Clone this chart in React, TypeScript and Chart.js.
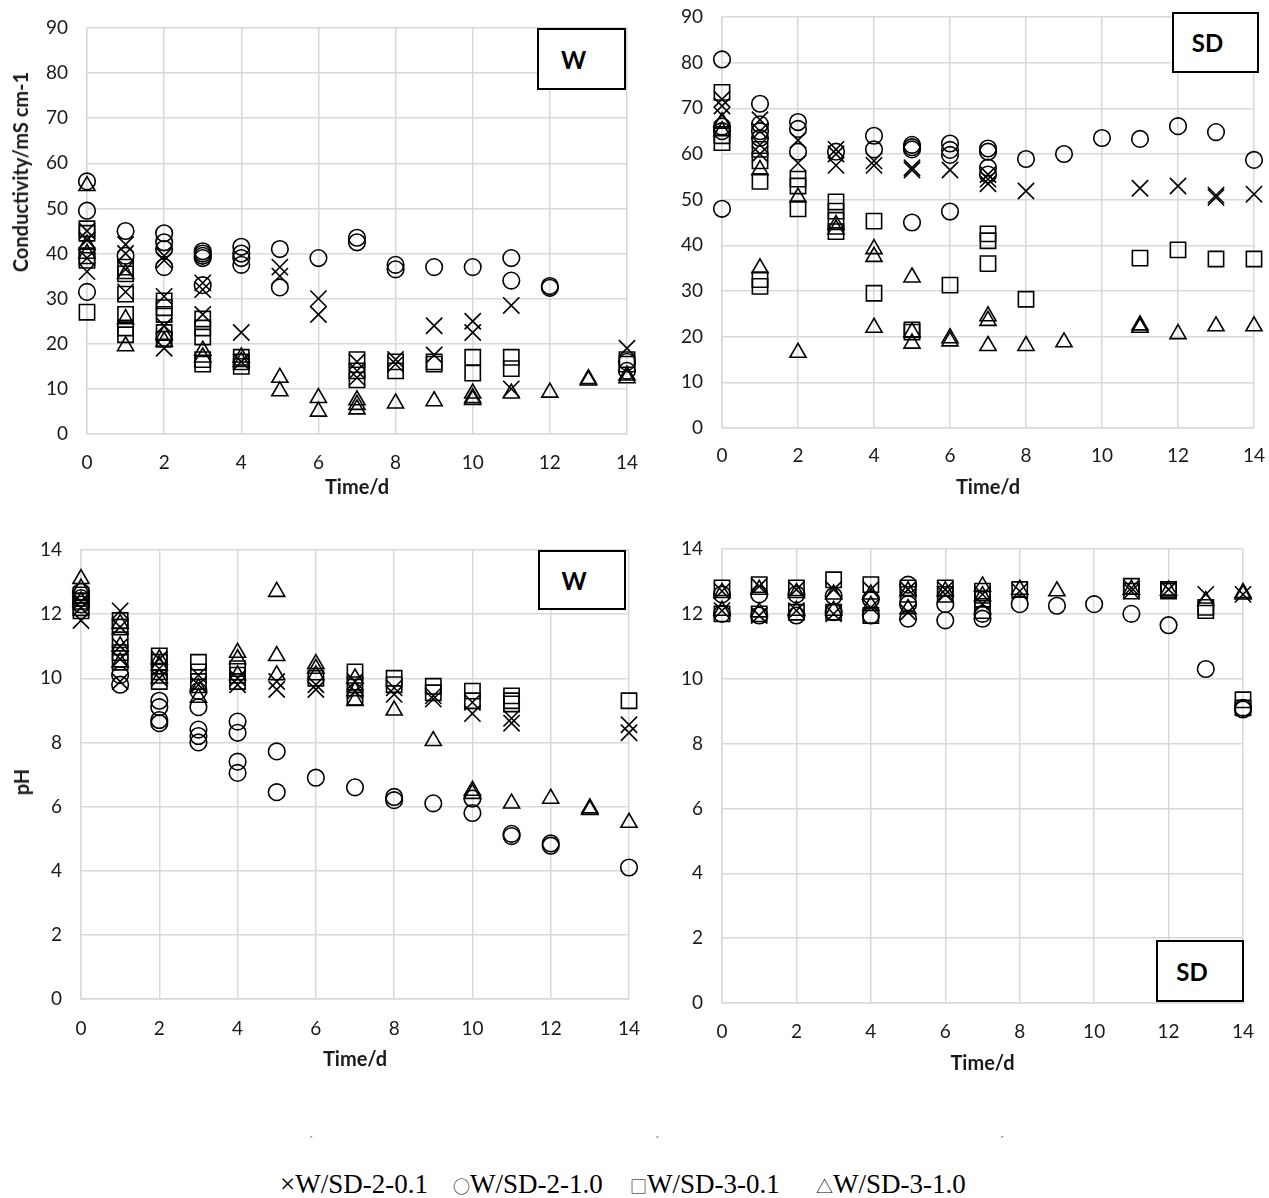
import React, { useEffect, useRef } from 'react';
import { Chart, registerables } from 'chart.js';

Chart.register(...registerables);

type P = [number, number];

// ---------- Series labels ----------
const seriesNames = ['W/SD-2-0.1', 'W/SD-2-1.0', 'W/SD-3-0.1', 'W/SD-3-1.0'];
const xTicks = [0, 2, 4, 6, 8, 10, 12, 14];

// ---------- Panel A: W, conductivity ----------
const wCondCross: P[] = [
  [0, 45], [0, 43], [0, 39], [0, 36],
  [1, 42], [1, 40], [1, 36.5], [1, 31.5],
  [2, 39.5], [2, 38.5], [2, 30.5], [2, 24], [2, 19],
  [3, 33.5], [3, 32], [3, 26.5],
  [4, 22.5], [4, 16],
  [5, 37], [5, 35],
  [6, 30], [6, 26.5],
  [7, 16], [7, 14], [7, 12.5],
  [8, 16.5], [8, 15.5],
  [9, 24], [9, 17.5],
  [10, 25], [10, 22.5],
  [11, 28.5], [11, 10],
  [14, 19],
];
const wCondCircle: P[] = [
  [0, 56], [0, 49.5], [0, 31.5],
  [1, 45], [1, 39.5],
  [2, 44.5], [2, 42.5], [2, 41], [2, 37],
  [3, 40.5], [3, 40], [3, 39.5], [3, 39], [3, 33],
  [4, 41.5], [4, 40], [4, 39], [4, 37.5],
  [5, 41], [5, 32.5],
  [6, 39],
  [7, 43.5], [7, 42.5],
  [8, 37.5], [8, 36.5],
  [9, 37],
  [10, 37],
  [11, 39], [11, 34],
  [12, 32.8], [12, 32.4],
  [14, 16], [14, 14],
];
const wCondSquare: P[] = [
  [0, 45.5], [0, 44.5], [0, 39.5], [0, 38.5], [0, 27],
  [1, 37], [1, 35.5], [1, 31], [1, 26.5], [1, 23.5], [1, 22],
  [2, 29.5], [2, 28], [2, 26.5], [2, 22.5], [2, 21],
  [3, 25.5], [3, 23.5], [3, 21.5], [3, 16.5], [3, 15.5],
  [4, 17], [4, 16], [4, 15],
  [7, 16.5], [7, 14], [7, 12],
  [8, 16], [8, 14],
  [9, 16], [9, 15.5],
  [10, 17], [10, 13.5],
  [11, 17], [11, 14.5],
  [14, 16.5], [14, 15.5],
];
const wCondTriangle: P[] = [
  [0, 55], [0, 42], [0, 40],
  [1, 35.5], [1, 25.5], [1, 19.5],
  [2, 22], [2, 20.5],
  [3, 18.5], [3, 17],
  [4, 17], [4, 16],
  [5, 12.5], [5, 9.5],
  [6, 8], [6, 5],
  [7, 7.5], [7, 6.5], [7, 5.5],
  [8, 6.8],
  [9, 7.3],
  [10, 9], [10, 8], [10, 7.6],
  [11, 9],
  [12, 9.2],
  [13, 12.2], [13, 11.9],
  [14, 13], [14, 12.4],
];

// ---------- Panel B: SD, conductivity ----------
const sdCondCross: P[] = [
  [0, 72], [0, 70.5], [0, 68.5],
  [1, 67.5], [1, 65], [1, 62], [1, 60],
  [2, 63], [2, 58],
  [3, 61], [3, 60], [3, 57.5],
  [4, 58.5], [4, 57.5],
  [5, 57], [5, 56.5],
  [6, 56.5],
  [7, 55.5], [7, 54.5], [7, 53.5],
  [8, 51.9],
  [11, 52.5],
  [12, 53],
  [13, 51], [13, 50.5],
  [14, 51.2],
];
const sdCondCircle: P[] = [
  [0, 80.7], [0, 66], [0, 65], [0, 48],
  [1, 71], [1, 66.5], [1, 65], [1, 63.5],
  [2, 67], [2, 65.5], [2, 60.5],
  [3, 60.5],
  [4, 64], [4, 61],
  [5, 62], [5, 61.5], [5, 61], [5, 45],
  [6, 62.3], [6, 60.9], [6, 59.8], [6, 47.4],
  [7, 61.2], [7, 60.5], [7, 57], [7, 55.5],
  [8, 58.9],
  [9, 60],
  [10, 63.5],
  [11, 63.3],
  [12, 66.1],
  [13, 64.8],
  [14, 58.7],
];
const sdCondSquare: P[] = [
  [0, 73.5], [0, 64], [0, 62.5],
  [1, 61], [1, 58.5], [1, 54], [1, 32.5], [1, 31],
  [2, 54.5], [2, 53], [2, 48],
  [3, 49.5], [3, 47.5], [3, 45.5], [3, 43],
  [4, 45.3], [4, 29.5],
  [5, 21.5], [5, 21],
  [6, 31.3],
  [7, 42.5], [7, 41], [7, 36],
  [8, 28.2],
  [11, 37.2],
  [12, 39],
  [13, 37],
  [14, 37],
];
const sdCondTriangle: P[] = [
  [0, 67], [0, 65],
  [1, 56.5], [1, 35],
  [2, 50.5], [2, 16.5],
  [3, 44.5], [3, 43.5],
  [4, 39.2], [4, 37.5], [4, 22],
  [5, 33], [5, 21], [5, 18.5],
  [6, 19.7], [6, 19],
  [7, 24.5], [7, 23.5], [7, 18],
  [8, 18],
  [9, 18.8],
  [11, 22.5], [11, 22],
  [12, 20.6],
  [13, 22.3],
  [14, 22.3],
];

// ---------- Panel C: W, pH ----------
const wPhCross: P[] = [
  [0, 12.4], [0, 12.2], [0, 11.8],
  [1, 12.1], [1, 11.6], [1, 11.0], [1, 10.6], [1, 9.9],
  [2, 10.6], [2, 10.3], [2, 10.0],
  [3, 10.1], [3, 9.8],
  [4, 10.0], [4, 9.8],
  [5, 9.9], [5, 9.65],
  [6, 9.8], [6, 9.65],
  [7, 9.9], [7, 9.6],
  [8, 9.7], [8, 9.5],
  [9, 9.45], [9, 9.35],
  [10, 9.25], [10, 8.9],
  [11, 8.75], [11, 8.6],
  [14, 8.55], [14, 8.3],
];
const wPhCircle: P[] = [
  [0, 12.7], [0, 12.5], [0, 12.3],
  [1, 10.1], [1, 9.8],
  [2, 9.3], [2, 9.1], [2, 8.7], [2, 8.6],
  [3, 9.6], [3, 9.1], [3, 8.4], [3, 8.2], [3, 8.0],
  [4, 8.65], [4, 8.3], [4, 7.4], [4, 7.05],
  [5, 7.72], [5, 6.45],
  [6, 6.9],
  [7, 6.6],
  [8, 6.3], [8, 6.2],
  [9, 6.1],
  [10, 6.25], [10, 5.8],
  [11, 5.15], [11, 5.08],
  [12, 4.85], [12, 4.78],
  [14, 4.1],
];
const wPhSquare: P[] = [
  [0, 12.6], [0, 12.4], [0, 12.2], [0, 12.1],
  [1, 11.8], [1, 11.6], [1, 11.2], [1, 10.8], [1, 10.5],
  [2, 10.7], [2, 10.5], [2, 10.2], [2, 9.9],
  [3, 10.5], [3, 10.2], [3, 9.9],
  [4, 10.3], [4, 10.1], [4, 9.9],
  [6, 10.0],
  [7, 10.2], [7, 9.8], [7, 9.4],
  [8, 10.0], [8, 9.8],
  [9, 9.75], [9, 9.55],
  [10, 9.6], [10, 9.3],
  [11, 9.45], [11, 9.3], [11, 9.2],
  [14, 9.3],
];
const wPhTriangle: P[] = [
  [0, 13.1], [0, 12.8], [0, 12.4],
  [1, 11.7], [1, 11.0], [1, 10.5],
  [2, 10.6], [2, 10.4], [2, 10.0],
  [3, 9.7], [3, 9.4],
  [4, 10.8], [4, 10.6], [4, 10.1],
  [5, 12.7], [5, 10.7], [5, 10.1],
  [6, 10.45], [6, 10.3], [6, 10.1],
  [7, 10.0], [7, 9.6], [7, 9.3],
  [8, 9.0],
  [9, 8.05],
  [10, 6.5], [10, 6.4],
  [11, 6.1],
  [12, 6.25],
  [13, 5.95], [13, 5.9],
  [14, 5.5],
];

// ---------- Panel D: SD, pH ----------
const sdPhCross: P[] = [
  [0, 12.7], [0, 12.1],
  [1, 12.85], [1, 11.95],
  [2, 12.75], [2, 12.1],
  [3, 12.75], [3, 12.0],
  [4, 12.75], [4, 12.2],
  [5, 12.75], [5, 12.05],
  [6, 12.75], [6, 12.6],
  [7, 12.6], [7, 12.3],
  [8, 12.7],
  [11, 12.8], [11, 12.7],
  [12, 12.75],
  [13, 12.6],
  [14, 12.6],
];
const sdPhCircle: P[] = [
  [0, 12.6], [0, 12.0],
  [1, 12.6], [1, 11.95],
  [2, 12.6], [2, 11.95],
  [3, 12.55], [3, 12.05],
  [4, 12.45], [4, 11.95],
  [5, 12.9], [5, 12.3], [5, 11.85],
  [6, 12.3], [6, 11.8],
  [7, 12.0], [7, 11.85],
  [8, 12.3],
  [9, 12.25],
  [10, 12.3],
  [11, 12.0],
  [12, 11.65],
  [13, 10.3],
  [14, 9.1], [14, 9.05],
];
const sdPhSquare: P[] = [
  [0, 12.8], [0, 12.0],
  [1, 12.9], [1, 12.0],
  [2, 12.8], [2, 12.05],
  [3, 13.05], [3, 12.05],
  [4, 12.9], [4, 11.95],
  [5, 12.8], [5, 12.6],
  [6, 12.8], [6, 12.6],
  [7, 12.7], [7, 12.45], [7, 12.1],
  [8, 12.75],
  [11, 12.85], [11, 12.7],
  [12, 12.75], [12, 12.7],
  [13, 12.2], [13, 12.1],
  [14, 9.35], [14, 9.1],
];
const sdPhTriangle: P[] = [
  [0, 12.65], [0, 12.1],
  [1, 12.75], [1, 12.05],
  [2, 12.65], [2, 12.1],
  [3, 12.6], [3, 12.1],
  [4, 12.6], [4, 12.25],
  [5, 12.7], [5, 12.15],
  [6, 12.7],
  [7, 12.85], [7, 12.55],
  [8, 12.75],
  [9, 12.7],
  [11, 12.75],
  [12, 12.72],
  [13, 12.4],
  [14, 12.65], [14, 12.6],
];

// ---------- Styling ----------
const MARKERS = [
  { pointStyle: 'crossRot', radius: 11.5 },
  { pointStyle: 'circle', radius: 8.3 },
  { pointStyle: 'rect', radius: 10.8 },
  { pointStyle: 'triangle', radius: 9.3 },
];
const GRID = '#d9d9d9';
const TEXT = '#1a1a1a';
const SANS = "Lato, 'Open Sans', 'DejaVu Sans', sans-serif";
const TICK_SIZE = 19;
const HIDDEN = 'rgba(0,0,0,0)';

type Rect = { left: number; top: number; right: number; bottom: number };

interface PanelProps {
  series: P[][];
  yMax: number;
  yStep: number;
  canvasLeft: number;
  canvasTop: number;
  canvasWidth: number;
  canvasHeight: number;
  area: Rect;
  xTickGap: number;
}

function ScatterPanel(props: PanelProps) {
  const ref = useRef<HTMLCanvasElement | null>(null);
  const { series, yMax, yStep, canvasLeft, canvasTop, canvasWidth, canvasHeight, area, xTickGap } = props;

  useEffect(() => {
    if (!ref.current) return;
    const padTop = area.top - canvasTop;
    const padRight = canvasLeft + canvasWidth - area.right;
    const yAxisWidth = area.left - canvasLeft;
    const xAxisHeight = canvasTop + canvasHeight - area.bottom;

    const chart = new Chart(ref.current, {
      type: 'scatter',
      data: {
        datasets: series.map((pts, i) => ({
          label: seriesNames[i],
          data: pts.map(([x, y]) => ({ x, y })),
          pointStyle: MARKERS[i].pointStyle as any,
          pointRadius: MARKERS[i].radius,
          pointHoverRadius: MARKERS[i].radius,
          borderColor: '#000',
          backgroundColor: 'rgba(0,0,0,0)',
          borderWidth: 1.6,
          showLine: false,
          clip: false as any,
        })),
      },
      options: {
        animation: false,
        responsive: false,
        maintainAspectRatio: false,
        events: [],
        layout: { padding: { left: 0, top: padTop, right: padRight, bottom: 0 } },
        plugins: { legend: { display: false }, tooltip: { enabled: false } },
        scales: {
          x: {
            type: 'linear',
            min: 0,
            max: 14,
            afterBuildTicks: (s: any) => {
              s.ticks = xTicks.map((v) => ({ value: v }));
            },
            ticks: {
              padding: 0,
              autoSkip: false,
              maxRotation: 0,
              color: TEXT,
              font: { family: SANS, size: TICK_SIZE },
            },
            grid: { color: GRID, lineWidth: 1.5, drawTicks: true, tickLength: xTickGap, tickColor: HIDDEN },
            border: { color: GRID, width: 1.5 },
            title: {
              display: true,
              text: 'Time/d',
              color: TEXT,
              padding: 0,
              font: { family: SANS, size: 20, weight: 'bold' },
            },
            afterFit: (s: any) => {
              s.height = xAxisHeight;
            },
          },
          y: {
            type: 'linear',
            min: 0,
            max: yMax,
            ticks: {
              stepSize: yStep,
              padding: 0,
              color: TEXT,
              font: { family: SANS, size: TICK_SIZE },
            },
            grid: { color: GRID, lineWidth: 1.5, drawTicks: true, tickLength: 19, tickColor: HIDDEN },
            border: { color: GRID, width: 1.5 },
            afterFit: (s: any) => {
              s.width = yAxisWidth;
            },
          },
        },
      } as any,
    });
    return () => chart.destroy();
  }, []);

  return (
    <canvas
      ref={ref}
      width={canvasWidth}
      height={canvasHeight}
      style={{ position: 'absolute', left: canvasLeft, top: canvasTop, width: canvasWidth, height: canvasHeight }}
    />
  );
}

function LabelBox({ left, top, width, height, text }: { left: number; top: number; width: number; height: number; text: string }) {
  return (
    <div
      style={{
        position: 'absolute',
        left,
        top,
        width,
        height,
        boxSizing: 'border-box',
        border: '2px solid #000',
        background: '#fff',
        display: 'flex',
        alignItems: 'center',
        justifyContent: 'center',
        paddingRight: 16,
        fontFamily: SANS,
        fontWeight: 700,
        fontSize: 24,
        color: '#000',
      }}
    >
      {text}
    </div>
  );
}

function YTitle({ cx, cy, text }: { cx: number; cy: number; text: string }) {
  return (
    <div
      style={{
        position: 'absolute',
        left: cx,
        top: cy,
        transform: 'translate(-50%, -50%) rotate(-90deg)',
        whiteSpace: 'nowrap',
        fontFamily: SANS,
        fontWeight: 700,
        fontSize: 20,
        lineHeight: '24px',
        color: TEXT,
      }}
    >
      {text}
    </div>
  );
}

const legendItems = [
  { symbol: '×', text: 'W/SD-2-0.1', left: 280 },
  { symbol: '○', text: 'W/SD-2-1.0', left: 453 },
  { symbol: '□', text: 'W/SD-3-0.1', left: 630 },
  { symbol: '△', text: 'W/SD-3-1.0', left: 816 },
];

export default function App() {
  return (
    <div style={{ position: 'absolute', left: 0, top: 0, width: 1269, height: 1198, background: '#fff', overflow: 'hidden' }}>
      <ScatterPanel
        series={[wCondCross, wCondCircle, wCondSquare, wCondTriangle]}
        yMax={90}
        yStep={10}
        canvasLeft={0}
        canvasTop={0}
        canvasWidth={645}
        canvasHeight={500}
        area={{ left: 87, top: 28, right: 627, bottom: 434 }}
        xTickGap={17}
      />
      <ScatterPanel
        series={[sdCondCross, sdCondCircle, sdCondSquare, sdCondTriangle]}
        yMax={90}
        yStep={10}
        canvasLeft={660}
        canvasTop={0}
        canvasWidth={609}
        canvasHeight={500}
        area={{ left: 722, top: 17, right: 1254, bottom: 428 }}
        xTickGap={16}
      />
      <ScatterPanel
        series={[wPhCross, wPhCircle, wPhSquare, wPhTriangle]}
        yMax={14}
        yStep={2}
        canvasLeft={0}
        canvasTop={520}
        canvasWidth={645}
        canvasHeight={552}
        area={{ left: 81, top: 550, right: 629, bottom: 999 }}
        xTickGap={18}
      />
      <ScatterPanel
        series={[sdPhCross, sdPhCircle, sdPhSquare, sdPhTriangle]}
        yMax={14}
        yStep={2}
        canvasLeft={660}
        canvasTop={520}
        canvasWidth={609}
        canvasHeight={556}
        area={{ left: 722, top: 549, right: 1243, bottom: 1003 }}
        xTickGap={17}
      />

      <YTitle cx={20} cy={172} text="Conductivity/mS cm-1" />
      <YTitle cx={21} cy={782} text="pH" />

      <LabelBox left={537} top={28} width={89} height={62} text="W" />
      <LabelBox left={1172} top={12} width={87} height={61} text="SD" />
      <LabelBox left={538} top={550} width={88} height={60} text="W" />
      <LabelBox left={1156} top={940} width={88} height={62} text="SD" />

      {[309, 655, 1000].map((x) => (
        <span key={x} style={{ position: 'absolute', left: x, top: 1134, fontSize: 12, color: '#666', fontFamily: "'Liberation Serif', serif" }}>
          ˊ
        </span>
      ))}

      {legendItems.map((it) => (
        <div
          key={it.text}
          style={{
            position: 'absolute',
            left: it.left,
            top: 1168,
            whiteSpace: 'nowrap',
            fontFamily: "'Liberation Serif', 'Times New Roman', serif",
            fontSize: 27,
            lineHeight: '32px',
            color: '#000',
          }}
        >
          <span
            style={{
              fontFamily: it.symbol === '×' ? "'Liberation Serif', serif" : "'Noto Sans CJK SC', 'DejaVu Sans', sans-serif",
              fontSize: it.symbol === '×' ? 27 : 17,
              fontWeight: 300,
            }}
          >
            {it.symbol}
          </span>
          {it.text}
        </div>
      ))}
    </div>
  );
}
